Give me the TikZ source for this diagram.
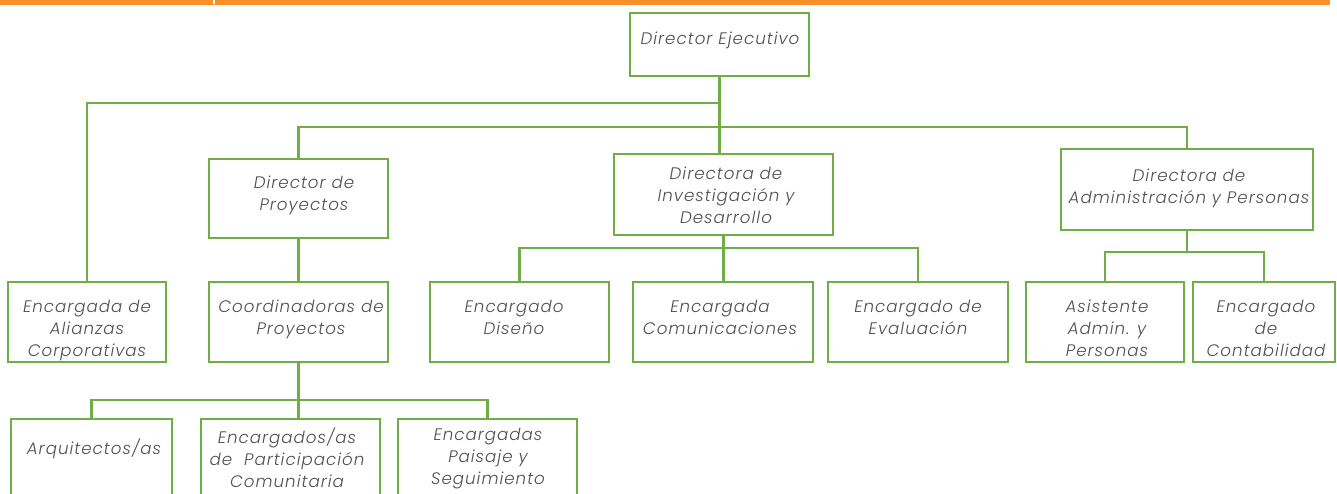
\documentclass[tikz,border=0pt]{standalone}
\usepackage{fontspec}
\setmainfont{Poppins}[UprightFont=* Light, ItalicFont=* Light Italic, LetterSpace=6]
\definecolor{grn}{HTML}{70AD47}
\definecolor{org}{HTML}{F7902A}
\definecolor{txt}{HTML}{505050}
\begin{document}
\begin{tikzpicture}[x=0.75pt,y=-0.75pt,
  box/.style={draw=grn, line width=2.2pt, inner sep=0pt, fill=white},
  lbl/.style={anchor=north, inner sep=0pt, align=center, text=txt,
    font=\fontsize{12.5}{16.5}\selectfont\itshape},
  conn/.style={draw=grn, line width=2.2pt}]
\clip (0,0) rectangle (1337,493);
\fill[white] (0,0) rectangle (1337,493);
% top bar
\fill[org] (0,0) rectangle (1330,5);
\fill[white] (212.5,0) rectangle (214.5,4);
% coordinates of the buses
\coordinate (bus1) at (0,103);
\coordinate (bus2) at (0,127);
\coordinate (bus3) at (0,400);
\coordinate (bus4) at (0,248);
\coordinate (bus5) at (0,252);
% boxes
\node[box, minimum width=134.25pt, minimum height=47.25pt] (de) at (719.5,44.5) {};
\node[box, minimum width=134.25pt, minimum height=59.25pt] (dp) at (298.5,198.5) {};
\node[box, minimum width=164.25pt, minimum height=60.75pt] (inv) at (723.5,194.5) {};
\node[box, minimum width=189pt, minimum height=60.75pt] (adm) at (1187,189.5) {};
\node[box, minimum width=118.5pt, minimum height=60pt] (ali) at (87,322) {};
\node[box, minimum width=134.25pt, minimum height=60pt] (coo) at (298.5,322) {};
\node[box, minimum width=134.25pt, minimum height=60pt] (dis) at (519.5,322) {};
\node[box, minimum width=135pt, minimum height=60pt] (com) at (723,322) {};
\node[box, minimum width=135pt, minimum height=60pt] (eva) at (918,322) {};
\node[box, minimum width=118.5pt, minimum height=60pt] (asi) at (1105,322) {};
\node[box, minimum width=106.5pt, minimum height=60pt] (con) at (1264,322) {};
\node[box, minimum width=120.75pt, minimum height=68.25pt] (arq) at (91.5,464.5) {};
\node[box, minimum width=134.25pt, minimum height=68.25pt] (enc) at (290.5,464.5) {};
\node[box, minimum width=134.25pt, minimum height=68.25pt] (pai) at (487.5,464.5) {};
% connectors
\draw[conn] (de.south) -- (de.south |- bus1) -| (ali.north);
\draw[conn] (de.south |- bus1) -- (de.south |- inv.north);
\draw[conn] (dp.north) |- (adm.north |- bus2) -- (adm.north);
\draw[conn] (dp.south) -- (coo.north);
\draw[conn] (coo.south) -- (coo.south |- enc.north);
\draw[conn] (arq.north) |- (pai.north |- bus3) -- (pai.north);
\draw[conn] (inv.south) -- (inv.south |- com.north);
\draw[conn] (dis.north) |- (eva.north |- bus4) -- (eva.north);
\draw[conn] (adm.south) -- (adm.south |- bus5);
\draw[conn] (asi.north) |- (con.north |- bus5) -- (con.north);
% labels
\node[lbl] (tde) at (720,32) {Director Ejecutivo};
\node[lbl] (tdp) at (304,176) {Director de\\Proyectos};
\node[lbl] (tinv) at (726,167) {Directora de\\Investigación y\\Desarrollo};
\node[lbl] (tadm) at (1189,169) {Directora de\\Administración y Personas};
\node[lbl] (tali) at (87,300) {Encargada de\\Alianzas\\Corporativas};
\node[lbl] (tcoo) at (301,300) {Coordinadoras de\\Proyectos};
\node[lbl] (tdis) at (514,300) {Encargado\\Diseño};
\node[lbl] (tcom) at (720,300) {Encargada\\Comunicaciones};
\node[lbl] (teva) at (918,300) {Encargado de\\Evaluación};
\node[lbl] (tasi) at (1107,300) {Asistente\\Admin. y\\Personas};
\node[lbl] (tcon) at (1266,300) {Encargado\\de\\Contabilidad};
\node[lbl] (tarq) at (94,439) {Arquitectos/as};
\node[lbl] (tenc) at (287,428) {Encargados/as\\de\ \ Participación\\Comunitaria};
\node[lbl] (tpai) at (488,428) {Encargadas\\Paisaje y\\Seguimiento};
\end{tikzpicture}
\end{document}
